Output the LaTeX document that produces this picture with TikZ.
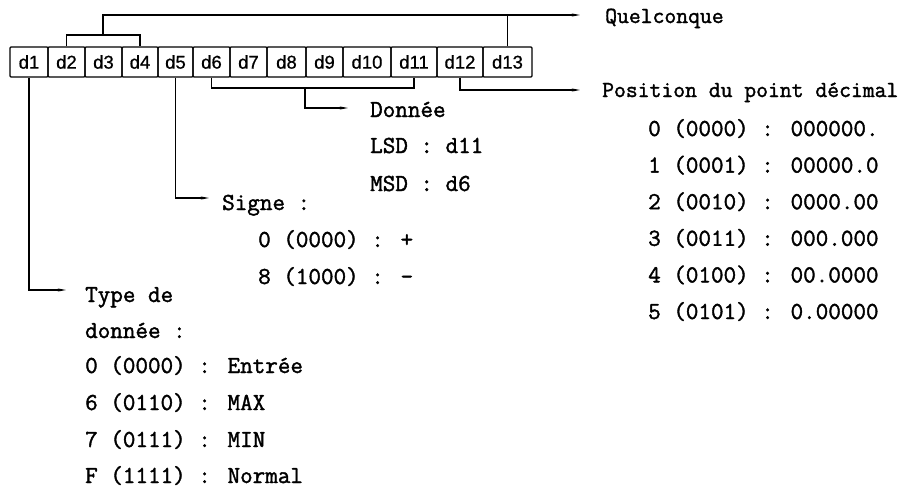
\documentclass[tikz,border=0pt]{standalone}
\usepackage{fontspec}
\newfontfamily\twfont{Latin Modern Mono}[FakeBold=1.6]
\newfontfamily\boxfont{Liberation Sans}[FakeBold=0.7]
\usetikzlibrary{arrows.meta}
\begin{document}
\begin{tikzpicture}[x=1pt,y=-1pt,
  cell/.style={draw,line width=1.2pt,rounded corners=1pt,minimum height=30pt,inner sep=0pt,font=\boxfont\fontsize{18.5}{20}\selectfont},
  wire/.style={line width=1.2pt},
  conn/.style={wire,-{Stealth[length=8pt,width=3pt]}},
  lab/.style={anchor=base west,inner sep=0pt,font=\twfont\fontsize{24.4}{28}\selectfont},
  labn/.style={anchor=base west,inner sep=0pt,font=\twfont\fontsize{23}{28}\selectfont}]
\useasboundingbox (0,0) rectangle (913,490);
% boxes
\node[cell,minimum width=38pt] (d1) at (29,62) {d1};
\node[cell,minimum width=37pt] (d2) at (66.5,62) {d2};
\node[cell,minimum width=37pt] (d3) at (103.5,62) {d3};
\node[cell,minimum width=36pt] (d4) at (140,62) {d4};
\node[cell,minimum width=35pt] (d5) at (175.5,62) {d5};
\node[cell,minimum width=37pt] (d6) at (211.5,62) {d6};
\node[cell,minimum width=37pt] (d7) at (248.5,62) {d7};
\node[cell,minimum width=39pt] (d8) at (286.5,62) {d8};
\node[cell,minimum width=37pt] (d9) at (324.5,62) {d9};
\node[cell,minimum width=48pt] (d10) at (367,62) {d10};
\node[cell,minimum width=46pt] (d11) at (414,62) {d11};
\node[cell,minimum width=46pt] (d12) at (460,62) {d12};
\node[cell,minimum width=49pt] (d13) at (507.5,62) {d13};
% coordinates
\coordinate (b24) at (103,35);
\coordinate (qtip) at (580,15);
\coordinate (b611) at (305,88);
\coordinate (dtip) at (348,108);
\coordinate (stip) at (209,198);
\coordinate (ttip) at (66,290);
\coordinate (ptip) at (580,90);
% top connectors
\draw[wire] (d2.north) |- (b24) -| (d4.north);
\draw[conn] (b24) |- (qtip);
\draw[wire] (d13.north) -- (d13.north |- qtip);
% bottom connectors
\draw[wire] (d6.south) |- (b611) -| (d11.south);
\draw[conn] (b611) |- (dtip);
\draw[conn] (d5.south) |- (stip);
\draw[conn] (d1.south) |- (ttip);
\draw[conn] (d12.south) |- (ptip);
% texts
\node[labn] (tq) at (605,23) {Quelconque};
\node[labn] (tp) at (602,97) {Position du point décimal};
\node[lab] (p0) at (648,136) {0 (0000) : 000000.};
\node[lab] (p1) at (648,172.6) {1 (0001) : 00000.0};
\node[lab] (p2) at (648,209.2) {2 (0010) : 0000.00};
\node[lab] (p3) at (648,245.8) {3 (0011) : 000.000};
\node[lab] (p4) at (648,282.4) {4 (0100) : 00.0000};
\node[lab] (p5) at (648,319) {5 (0101) : 0.00000};
\node[lab] (td) at (370,117) {Donnée};
\node[lab] (tl) at (370,153) {LSD : d11};
\node[lab] (tm) at (370,191) {MSD : d6};
\node[lab] (ts) at (222,210) {Signe :};
\node[lab] (s0) at (258,247) {0 (0000) : +};
\node[lab] (s8) at (258,284) {8 (1000) : -};
\node[lab] (tt1) at (85,302) {Type de};
\node[lab] (tt2) at (85,338) {donnée :};
\node[lab] (t0) at (85,373) {0 (0000) : Entrée};
\node[lab] (t6) at (85,410) {6 (0110) : MAX};
\node[lab] (t7) at (85,447) {7 (0111) : MIN};
\node[lab] (tf) at (85,483) {F (1111) : Normal};
\end{tikzpicture}
\end{document}
